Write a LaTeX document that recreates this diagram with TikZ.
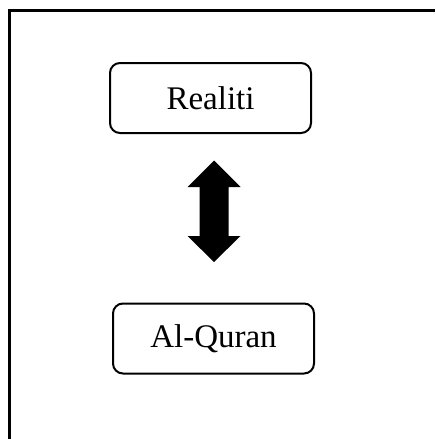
\documentclass[tikz,border=0pt]{standalone}
\usepackage{fontspec}
\setmainfont{Liberation Serif}
\usetikzlibrary{positioning}

\begin{document}
\begin{tikzpicture}[
    x=0.5pt, y=-0.5pt,
    box/.style = {
        draw, line width=1pt, rectangle, rounded corners=5pt,
        minimum width=100.5pt, minimum height=35pt,
        font=\fontsize{16.5}{20}\selectfont
    },
    frame/.style = {line width=1.5pt}
  ]
    \useasboundingbox (0,0) rectangle (435,439);
    \draw[frame] (9.5,439) -- (9.5,10.5) -- (435,10.5);  % 外框(只有左边和上边)
    \node[box] (realiti) at (210.5,98) {Realiti};
    \node[box] (quran) at (213.5,338.5) {Al-Quran};
    % 双向粗箭头
    \fill (214,160.5) -- (240.5,187) -- (228.5,187) -- (228.5,236) -- (240.5,236)
        -- (214,262) -- (187.5,236) -- (199.5,236) -- (199.5,187) -- (187.5,187) -- cycle;
\end{tikzpicture}
\end{document}
